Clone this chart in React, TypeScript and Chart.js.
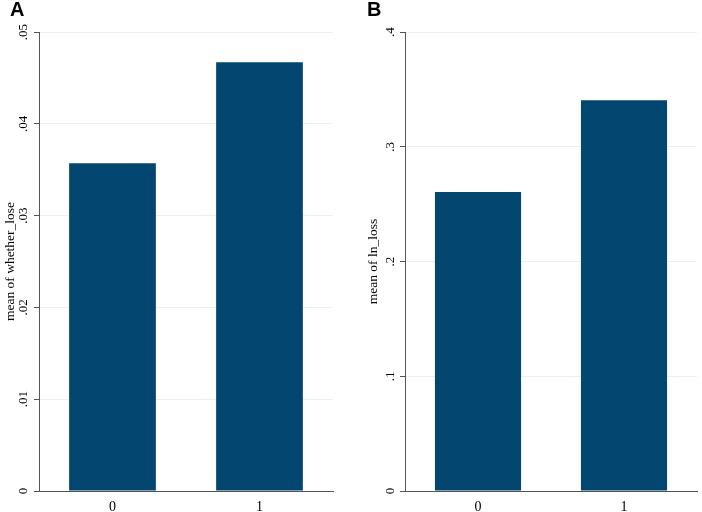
import React, { useEffect, useRef } from "react";
import { Chart, registerables } from "chart.js";

Chart.register(...registerables);

const CATEGORIES = ["0", "1"];
const VALUES_A = [0.0357, 0.0467];
const VALUES_B = [0.2605, 0.3405];
const TICKS_A = ["0", ".01", ".02", ".03", ".04", ".05"];
const TICKS_B = ["0", ".1", ".2", ".3", ".4"];
const TITLE_A = "mean of whether_lose";
const TITLE_B = "mean of ln_loss";

const BAR_COLOR = "#03466f";
const GRID_COLOR = "#e9f1f2";
const AXIS_COLOR = "#555555";
const SERIF = "'Liberation Serif', 'Times New Roman', serif";

type PanelProps = {
  values: number[];
  tickLabels: string[];
  title: string;
  max: number;
  step: number;
  width: number;
  padLeft: number;
  padRight: number;
  axisWidth: number;
  tickPad: number;
};

function Panel(p: PanelProps) {
  const ref = useRef<HTMLCanvasElement | null>(null);
  useEffect(() => {
    if (!ref.current) return;
    const font = { family: SERIF, size: 13 };
    const chart = new Chart(ref.current, {
      type: "bar",
      data: {
        labels: CATEGORIES,
        datasets: [
          {
            data: p.values,
            backgroundColor: BAR_COLOR,
            barPercentage: 0.59,
            categoryPercentage: 1,
          },
        ],
      },
      options: {
        animation: false,
        responsive: false,
        maintainAspectRatio: false,
        devicePixelRatio: 1,
        layout: { padding: { top: 32, right: p.padRight, left: p.padLeft, bottom: 0 } },
        plugins: { legend: { display: false }, tooltip: { enabled: false } },
        scales: {
          x: {
            grid: { display: false },
            border: { display: true, color: AXIS_COLOR, width: 1 },
            ticks: { font: { family: SERIF, size: 14 }, color: "#000", padding: 0, maxRotation: 0 },
            afterFit: (s: any) => {
              s.height = 21;
            },
          },
          y: {
            min: 0,
            max: p.max,
            ticks: {
              stepSize: p.step,
              minRotation: 90,
              maxRotation: 90,
              crossAlign: "center",
              padding: p.tickPad,
              font,
              color: "#000",
              callback: (_v: any, i: number) => p.tickLabels[i],
            },
            grid: { color: GRID_COLOR, tickColor: AXIS_COLOR, tickLength: 5, lineWidth: 1 },
            border: { display: true, color: AXIS_COLOR, width: 1 },
            title: {
              display: true,
              text: p.title,
              font: { family: SERIF, size: 13.5 },
              color: "#000",
              padding: { top: 2, bottom: 0 },
            },
            afterFit: (s: any) => {
              s.width = p.axisWidth;
            },
          },
        },
      } as any,
    });
    return () => chart.destroy();
  }, []);
  return <canvas ref={ref} width={p.width} height={512} style={{ display: "block" }} />;
}

export default function App() {
  const letter: React.CSSProperties = {
    position: "absolute",
    top: -1,
    fontFamily: "'Liberation Sans', Arial, sans-serif",
    fontWeight: "bold",
    fontSize: 20,
    lineHeight: "20px",
    color: "#000",
  };
  return (
    <div style={{ position: "fixed", left: 0, top: 0, width: 702, height: 512, background: "#fff" }}>
      <div style={{ position: "absolute", left: 0, top: 0 }}>
        <Panel
          values={VALUES_A}
          tickLabels={TICKS_A}
          title={TITLE_A}
          max={0.05}
          step={0.01}
          width={350}
          padLeft={0}
          padRight={17}
          axisWidth={39}
          tickPad={2}
        />
      </div>
      <div style={{ position: "absolute", left: 350, top: 0 }}>
        <Panel
          values={VALUES_B}
          tickLabels={TICKS_B}
          title={TITLE_B}
          max={0.4}
          step={0.1}
          width={352}
          padLeft={13}
          padRight={5}
          axisWidth={42}
          tickPad={5}
        />
      </div>
      <div style={{ ...letter, left: 10 }}>A</div>
      <div style={{ ...letter, left: 367 }}>B</div>
    </div>
  );
}
